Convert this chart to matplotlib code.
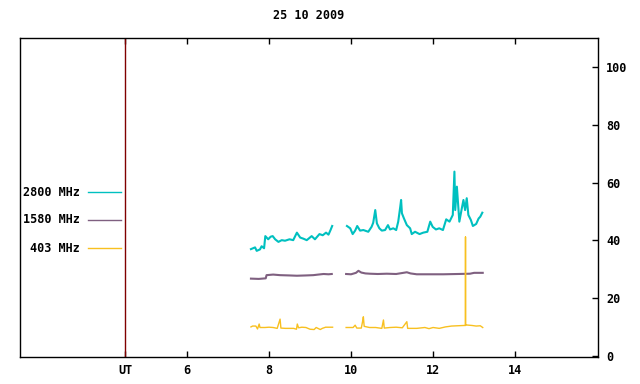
import numpy as np
import matplotlib
matplotlib.use('Agg')
import matplotlib.pyplot as plt

title = '25 10 2009'
labels = ['2800 MHz', '1580 MHz', '403 MHz']
colors = ['#00c0c0', '#7f6080', '#f8c020']

# 2800 MHz (hours UT, flux)
t2800 = [7.56, 7.66, 7.70, 7.78, 7.82, 7.88, 7.91, 7.98, 8.04, 8.09, 8.15, 8.23,
         8.31, 8.39, 8.50, 8.59, 8.68, 8.76, 8.84, 8.92, 9.04, 9.12, 9.23, 9.31,
         9.39, 9.45, 9.50, 9.54, np.nan,
         9.90, 9.98, 10.04, 10.10, 10.15, 10.22, 10.30, 10.42, 10.50, 10.54, 10.59,
         10.63, 10.69, 10.75, 10.83, 10.90, 10.95, 11.03, 11.10, 11.15, 11.20, 11.22,
         11.24, 11.29, 11.36, 11.44, 11.48, 11.56, 11.67, 11.76, 11.86, 11.93, 11.99,
         12.07, 12.15, 12.24, 12.32, 12.40, 12.48, 12.52, 12.54, 12.58, 12.62, 12.64,
         12.70, 12.74, 12.78, 12.82, 12.86, 12.92, 12.97, 13.05, 13.11, 13.15, 13.20]
f2800 = [37.0, 37.6, 36.4, 36.9, 38.0, 37.3, 41.5, 40.4, 41.3, 41.5, 40.4, 39.5,
         40.1, 39.9, 40.4, 40.1, 42.7, 41.0, 40.6, 40.1, 41.5, 40.4, 42.2, 41.8,
         42.7, 42.0, 43.6, 45.0, np.nan,
         45.0, 44.2, 42.2, 43.4, 45.0, 43.4, 43.6, 43.0, 44.7, 46.1, 50.5,
         45.9, 44.2, 43.4, 43.6, 45.3, 43.8, 44.2, 43.6, 46.5, 51.7, 54.0,
         49.4, 47.6, 45.3, 44.2, 42.2, 43.0, 42.2, 42.7, 43.0, 46.5, 44.7,
         43.8, 44.2, 43.6, 47.3, 46.5, 48.8, 63.8, 50.5, 58.6, 50.5, 46.5,
         51.1, 54.0, 50.5, 54.6, 48.8, 47.1, 45.0, 45.7, 47.6, 48.2, 49.6]

# 1580 MHz
t1580 = [7.56, 7.75, 7.92, 7.94, 8.10, 8.27, 8.50, 8.68, 8.90, 9.08, 9.20, 9.33,
         9.45, 9.53, np.nan,
         9.88, 10.00, 10.12, 10.18, 10.25, 10.35, 10.46, 10.65, 10.87, 11.10, 11.36,
         11.45, 11.60, 11.90, 12.25, 12.60, 12.90, 13.00, 13.21]
f1580 = [26.8, 26.7, 26.9, 28.0, 28.2, 28.0, 27.9, 27.8, 27.9, 28.0, 28.2, 28.4,
         28.3, 28.4, np.nan,
         28.4, 28.3, 28.8, 29.5, 28.9, 28.6, 28.5, 28.4, 28.5, 28.4, 29.0,
         28.6, 28.3, 28.3, 28.3, 28.4, 28.5, 28.8, 28.8]

# 403 MHz
t403 = [7.56, 7.60, 7.68, 7.72, 7.76, 7.78, 7.90, 8.00, 8.10, 8.20, 8.27, 8.29,
        8.40, 8.60, 8.67, 8.69, 8.72, 8.80, 8.90, 9.00, 9.10, 9.15, 9.25, 9.30,
        9.38, 9.55, np.nan,
        9.88, 10.05, 10.10, 10.14, 10.25, 10.28, 10.30, 10.32, 10.45, 10.60, 10.75,
        10.79, 10.81, 10.95, 11.10, 11.25, 11.36, 11.38, 11.60, 11.80, 11.90, 12.00,
        12.15, 12.30, 12.45, 12.60, 12.75, 12.79, 12.79, 12.79, 12.95, 13.05, 13.15,
        13.21]
f403 = [10.1, 10.4, 10.4, 9.4, 11.1, 9.9, 9.9, 10.0, 9.9, 9.6, 12.8, 9.7,
        9.6, 9.6, 9.3, 11.1, 9.8, 10.0, 9.9, 9.3, 9.2, 9.9, 9.2, 9.6,
        10.0, 10.0, np.nan,
        9.9, 9.9, 10.7, 9.7, 9.7, 11.9, 13.6, 10.3, 9.9, 9.9, 9.6,
        12.5, 9.7, 9.9, 10.0, 9.8, 11.9, 9.6, 9.6, 9.9, 9.5, 9.9,
        9.6, 10.1, 10.4, 10.5, 10.6, 10.6, 41.2, 10.8, 10.6, 10.4, 10.5,
        9.9]

xticks = [4.5, 6, 8, 10, 12, 14]
xticklabels = ['UT', '6', '8', '10', '12', '14']
yticks = [0, 20, 40, 60, 80, 100]

font = {'family': 'DejaVu Sans Mono', 'weight': 'bold', 'size': 8.5}

fig = plt.figure(figsize=(6.4, 3.84), dpi=100)
ax = fig.add_axes([20 / 640, 27 / 384, 578 / 640, 319 / 384])

ax.plot(t2800, f2800, color=colors[0], lw=1.5)
ax.plot(t1580, f1580, color=colors[1], lw=1.5)
ax.plot(t403, f403, color=colors[2], lw=1.0)

ax.axvline(4.5, color='#800000', lw=1.0)

ax.set_xlim(1.93, 16.02)
ax.set_ylim(-0.3, 110)

ax.set_xticks(xticks)
ax.set_xticklabels(xticklabels, fontdict=font)
ax.set_yticks(yticks)
ax.set_yticklabels([str(v) for v in yticks], fontdict=font)
ax.yaxis.tick_right()
ax.tick_params(axis='x', direction='in', length=4, width=1, top=True, pad=5)
ax.tick_params(axis='y', direction='in', length=4, width=1, left=False,
               right=True, pad=6)
for s in ax.spines.values():
    s.set_linewidth(1.0)

ax.set_title(title, fontdict=font, pad=14)

# legend drawn by hand: text then line, left of the UT line
ys = [0.516, 0.4295, 0.3408]
for lab, col, y in zip(labels, colors, ys):
    ax.text(0.1038, y, lab, transform=ax.transAxes, ha='right', va='center',
            fontdict=font)
    ax.plot([0.1176, 0.1747], [y, y], transform=ax.transAxes, color=col, lw=1.0)

fig.savefig('out.png', dpi=100)
